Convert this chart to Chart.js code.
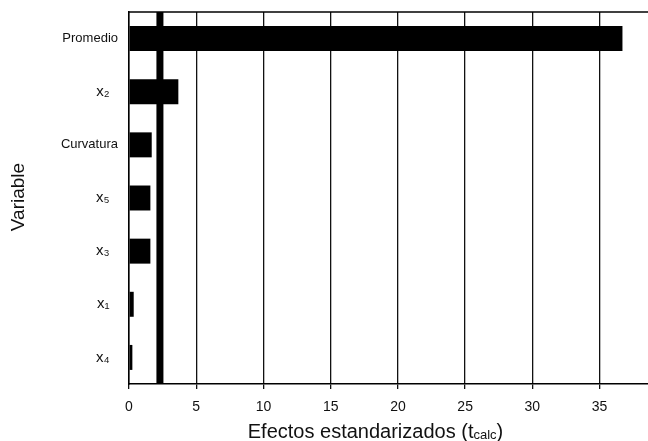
<!DOCTYPE html>
<html>
<head>
<meta charset="utf-8">
<script src="https://cdn.jsdelivr.net/npm/chart.js@4.4.1/dist/chart.umd.min.js"></script>
<style>
  body { margin: 0; background: #fff; }
  #grafico { display: block; }
</style>
</head>
<body>
<canvas id="grafico" width="648" height="441"></canvas>
<script>
var variables = ['Promedio', 'x\u2082', 'Curvatura', 'x\u2085', 'x\u2083', 'x\u2081', 'x\u2084'];
var efectos = [36.7, 3.67, 1.69, 1.59, 1.59, 0.35, 0.25];
var tCritico = 2.3;
var ejeMin = 0;
var ejeMax = 38.6;
var paso = 5;

// linea de t critico, borde superior y titulos de los ejes
var extras = {
  id: 'extras',
  afterDatasetsDraw: function(chart) {
    var ctx = chart.ctx;
    var area = chart.chartArea;
    var x = chart.scales.x.getPixelForValue(tCritico);
    ctx.save();
    ctx.fillStyle = '#000';
    ctx.fillRect(x - 3.5, area.top, 7, area.bottom - area.top);
    ctx.strokeStyle = '#000';
    ctx.lineWidth = 1.5;
    ctx.beginPath();
    ctx.moveTo(area.left, area.top);
    ctx.lineTo(area.right, area.top);
    ctx.stroke();
    ctx.restore();
  },
  afterDraw: function(chart) {
    var ctx = chart.ctx;
    var area = chart.chartArea;
    ctx.save();
    ctx.fillStyle = '#111';
    ctx.textBaseline = 'alphabetic';
    var big = '20px "Liberation Sans", Arial, sans-serif';
    var small = '13px "Liberation Sans", Arial, sans-serif';
    var p1 = 'Efectos estandarizados (t', p2 = 'calc', p3 = ')';
    ctx.font = big; var w1 = ctx.measureText(p1).width; var w3 = ctx.measureText(p3).width;
    ctx.font = small; var w2 = ctx.measureText(p2).width;
    var total = w1 + w2 + w3;
    var cx = (area.left + area.right) / 2 - 13;
    var x0 = cx - total / 2;
    var y0 = 438;
    ctx.font = big; ctx.fillText(p1, x0, y0);
    ctx.font = small; ctx.fillText(p2, x0 + w1, y0 + 1);
    ctx.font = big; ctx.fillText(p3, x0 + w1 + w2, y0);
    ctx.translate(19, 197);
    ctx.rotate(-Math.PI / 2);
    ctx.textAlign = 'center';
    ctx.textBaseline = 'middle';
    ctx.font = '19px "Liberation Sans", Arial, sans-serif';
    ctx.fillText('Variable', 0, 0);
    ctx.restore();
  }
};

var ctx = document.getElementById('grafico');
var grafico = new Chart(ctx, {
  type: 'bar',
  data: {
    labels: variables,
    datasets: [{
      data: efectos,
      backgroundColor: '#000',
      borderWidth: 0,
      barPercentage: 0.47,
      categoryPercentage: 1
    }]
  },
  options: {
    indexAxis: 'y',
    responsive: false,
    animation: false,
    layout: { padding: { top: 12, right: 0, left: 0, bottom: 0 } },
    plugins: {
      legend: { display: false },
      tooltip: { enabled: false }
    },
    scales: {
      x: {
        min: ejeMin,
        max: ejeMax,
        afterFit: function(scale) { scale.height = 57; },
        grid: {
          color: '#111',
          lineWidth: 1.3,
          drawTicks: true,
          tickLength: 5
        },
        border: { display: true, color: '#000', width: 1.5 },
        ticks: {
          stepSize: paso,
          includeBounds: false,
          color: '#111',
          padding: 10,
          maxRotation: 0,
          font: { family: '"Liberation Sans", Arial, sans-serif', size: 14 }
        },
        title: { display: false }
      },
      y: {
        afterFit: function(scale) {
          scale.width = 129;
          scale.paddingTop = 0;
          scale.paddingBottom = 0;
        },
        grid: { display: false, drawTicks: false },
        border: { display: true, color: '#000', width: 1.5 },
        ticks: {
          color: '#111',
          padding: 11,
          callback: function(v, i) {
            var t = this.getLabelForValue(v);
            return t.length <= 2 ? t + '  ' : t;
          },
          font: function(c) {
            var t = variables[c.index] || '';
            return { family: '"Liberation Sans", Arial, sans-serif', size: t.length <= 2 ? 15 : 13 };
          }
        },
        title: { display: false }
      }
    }
  },
  plugins: [extras]
});
</script>
</body>
</html>
